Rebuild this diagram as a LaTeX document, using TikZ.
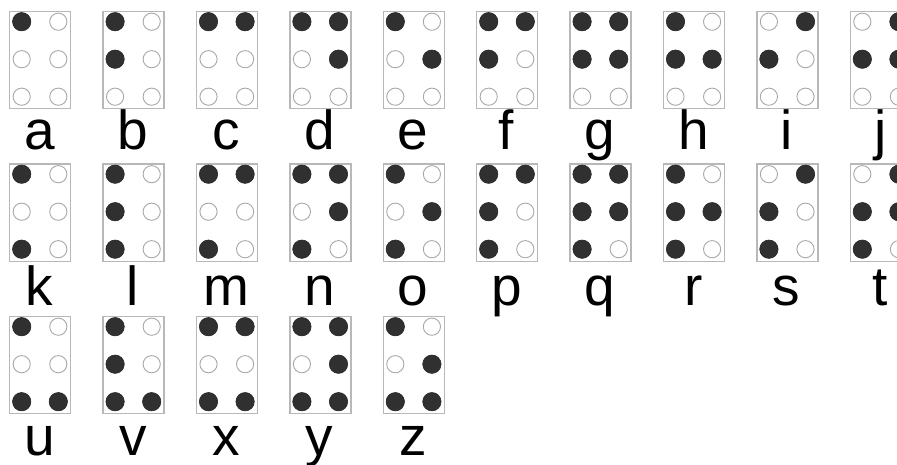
\documentclass[tikz,border=0pt]{standalone}
\usepackage{fontspec}
\setmainfont{Liberation Sans}
\definecolor{boxgray}{HTML}{B8B8B8}
\definecolor{opengray}{HTML}{A8A8A8}
\definecolor{dotdark}{HTML}{303030}
\begin{document}
\begin{tikzpicture}[x=1pt,y=-1pt,
  cellbox/.style={draw=boxgray,line width=1.4pt,fill=white,minimum width=61pt,minimum height=97pt,inner sep=0pt,anchor=north west},
  opendot/.style={draw=opengray,line width=0.9pt,fill=white},
  fulldot/.style={draw=dotdark!85!black,line width=0.6pt,fill=dotdark},
  letter/.style={anchor=base,inner sep=0pt,font=\fontsize{55}{60}\selectfont}]
\useasboundingbox (0,0) rectangle (897,465);
\clip (0,0) rectangle (897,465);
\fill[white] (0,0) rectangle (897,465);
\foreach \lab/\c/\r/\pts in {
  a/0/0/{1}, b/1/0/{1,2}, c/2/0/{1,4}, d/3/0/{1,4,5}, e/4/0/{1,5},
  f/5/0/{1,2,4}, g/6/0/{1,2,4,5}, h/7/0/{1,2,5}, i/8/0/{2,4}, j/9/0/{2,4,5},
  k/0/1/{1,3}, l/1/1/{1,2,3}, m/2/1/{1,3,4}, n/3/1/{1,3,4,5}, o/4/1/{1,3,5},
  p/5/1/{1,2,3,4}, q/6/1/{1,2,3,4,5}, r/7/1/{1,2,3,5}, s/8/1/{2,3,4}, t/9/1/{2,3,4,5},
  u/0/2/{1,3,6}, v/1/2/{1,2,3,6}, x/2/2/{1,3,4,6}, y/3/2/{1,3,4,5,6}, z/4/2/{1,3,5,6}}{
  \pgfmathsetmacro{\bx}{9+\c*93.4}
  \pgfmathsetmacro{\by}{11+\r*152.5}
  \pgfmathsetmacro{\bl}{150+\r*152.5+2.5*(\r==1)}
  \node[cellbox] (cell-\lab) at (\bx,\by) {};
  \foreach \d in {1,...,6}{
    \pgfmathsetmacro{\dc}{int(\d>3)}
    \pgfmathsetmacro{\dr}{int(mod(\d-1,3))}
    \draw[opendot] (\bx+12.7+\dc*36.6,\by+10.7+\dr*37.5) circle[radius=8.6pt];
  }
  \foreach \d in \pts{
    \pgfmathsetmacro{\dc}{int(\d>3)}
    \pgfmathsetmacro{\dr}{int(mod(\d-1,3))}
    \draw[fulldot] (\bx+12.7+\dc*36.6,\by+10.7+\dr*37.5) circle[radius=9.2pt];
  }
  \node[letter] (lab-\lab) at (\bx+30.5,\bl) {\lab};
}
\end{tikzpicture}
\end{document}
